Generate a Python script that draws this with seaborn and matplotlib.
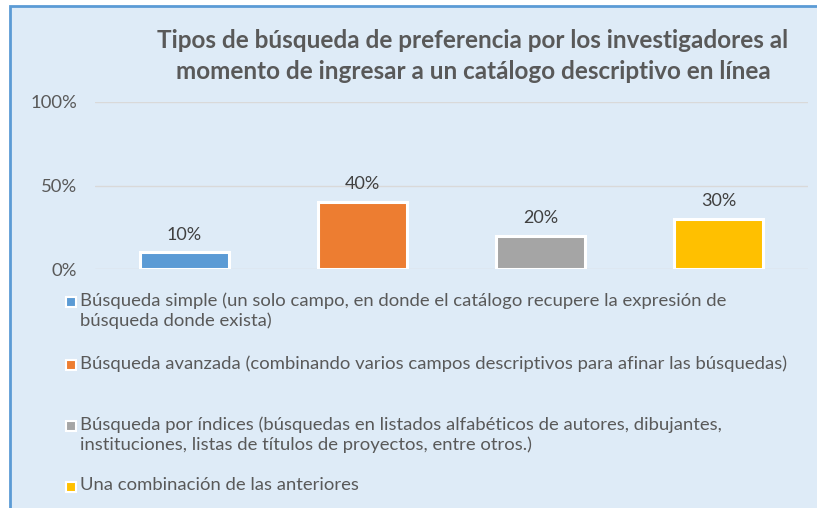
import matplotlib
matplotlib.use("Agg")
import matplotlib.pyplot as plt
import seaborn as sns
import pandas as pd
from matplotlib.patches import Rectangle
from matplotlib.ticker import FixedLocator, FuncFormatter

categories = [
    "Búsqueda simple (un solo campo, en donde el catálogo recupere la expresión de\nbúsqueda donde exista)",
    "Búsqueda avanzada (combinando varios campos descriptivos para afinar las búsquedas)",
    "Búsqueda por índices (búsquedas en listados alfabéticos de autores, dibujantes,\ninstituciones, listas de títulos de proyectos, entre otros.)",
    "Una combinación de las anteriores",
]
values = [0.10, 0.40, 0.20, 0.30]
colors = ["#5B9BD5", "#ED7D31", "#A5A5A5", "#FFC000"]
yticks = [0, 0.5, 1.0]
title = "Tipos de búsqueda de preferencia por los investigadores al\nmomento de ingresar a un catálogo descriptivo en línea"

sns.set_theme(style="white")
plt.rcParams["font.family"] = ["Lato", "DejaVu Sans"]

W, H = 817, 508
fig = plt.figure(figsize=(W / 100, H / 100), dpi=100, facecolor="white")

# chart area background with blue border
fig.patches.append(Rectangle((10 / W, -0.05), 1.1, (H - 6) / H + 0.05,
                             transform=fig.transFigure, facecolor="#DEEBF7",
                             edgecolor="#5B9BD5", linewidth=2, zorder=-5))

ax = fig.add_axes([95 / W, (H - 269) / H, (808 - 95) / W, (269 - 102) / H])
ax.set_facecolor("none")

df = pd.DataFrame({"cat": categories, "val": values})
sns.barplot(data=df, x="cat", y="val", hue="cat", palette=colors, legend=False,
            saturation=1, width=0.5, edgecolor="white", linewidth=2.2, ax=ax,
            zorder=3)

ax.set_xlim(-0.5, len(categories) - 0.5)
ax.set_ylim(0, 1.0)
ax.yaxis.set_major_locator(FixedLocator(yticks))
ax.yaxis.set_major_formatter(FuncFormatter(lambda v, p: f"{v*100:.0f}%"))
ax.grid(axis="y", color="#D9D9D9", linewidth=1, zorder=0)
ax.set_axisbelow(True)
for s in ax.spines.values():
    s.set_visible(False)
ax.set_xticks([])
ax.set_xlabel("")
ax.set_ylabel("")
ax.tick_params(axis="y", length=0, pad=13, labelsize=13.3, labelcolor="#595959")

for cont in ax.containers:
    ax.bar_label(cont, labels=[f"{v*100:.0f}%" for v in cont.datavalues],
                 padding=7, fontsize=13, color="#404040")

fig.text(473 / W, 1 - 56 / H, title, ha="center", va="center", fontsize=17.5,
         fontweight="bold", color="#595959", linespacing=1.42)

# legend entries drawn in figure coordinates
entry_y = [302, 365, 426, 487]
for label, col, y in zip(categories, colors, entry_y):
    fig.patches.append(Rectangle((66 / W, 1 - (y + 5) / H), 10 / W, 10 / H,
                                 transform=fig.transFigure, facecolor=col,
                                 edgecolor="white", linewidth=1.5, zorder=3))
    fig.text(80 / W, 1 - (y - 10) / H, label, ha="left", va="top", fontsize=13.3,
             color="#595959", linespacing=1.32)

fig.savefig("out.png", dpi=100, facecolor="white")
